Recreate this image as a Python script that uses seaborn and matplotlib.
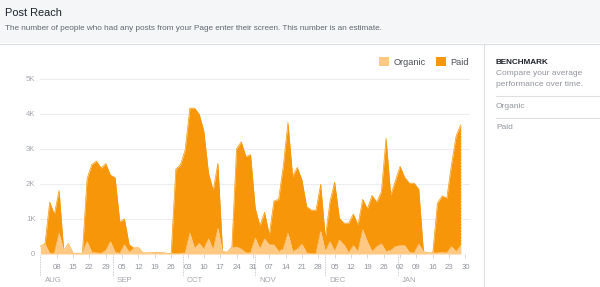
import numpy as np
import pandas as pd
import matplotlib
matplotlib.use("Agg")
import matplotlib.pyplot as plt
import matplotlib.dates as mdates
from matplotlib.patches import Rectangle
import seaborn as sns

# daily reach, one point every 2 days from 1 Aug, values in thousands
start = pd.Timestamp("2018-08-01")
day_offsets = list(range(0, 181, 2))

organic = [0.22, 0.28, 0.02, 0.02, 0.59, 0.10, 0.30, 0.02, 0.02, 0.02,
           0.35, 0.05, 0.03, 0.02, 0.10, 0.35, 0.05, 0.02, 0.26, 0.05,
           0.16, 0.18, 0.03, 0.03, 0.04, 0.05, 0.04, 0.02, 0.01, 0.01,
           0.02, 0.03, 0.59, 0.16, 0.30, 0.14, 0.43, 0.11, 0.73, 0.05,
           0.05, 0.18, 0.20, 0.14, 0.03, 0.03, 0.45, 0.14, 0.43, 0.26,
           0.26, 0.07, 0.14, 0.59, 0.07, 0.14, 0.28, 0.03, 0.01, 0.01,
           0.64, 0.07, 0.35, 0.07, 0.40, 0.26, 0.03, 0.24, 0.07, 0.69,
           0.35, 0.07, 0.21, 0.29, 0.07, 0.11, 0.21, 0.24, 0.24, 0.05,
           0.03, 0.28, 0.07, 0.03, 0.03, 0.03, 0.05, 0.03, 0.21, 0.07,
           0.24]

paid = [0.00, 0.02, 1.46, 1.11, 1.22, 0.00, 0.00, 0.00, 0.00, 0.00,
        1.80, 2.50, 2.62, 2.43, 2.48, 1.90, 2.13, 0.90, 0.74, 0.22,
        0.01, 0.00, 0.00, 0.00, 0.00, 0.00, 0.00, 0.00, 0.01, 2.41,
        2.53, 2.94, 3.57, 4.00, 3.69, 3.36, 1.87, 1.70, 1.86, 0.02,
        0.00, 0.02, 2.80, 3.06, 2.75, 2.80, 0.85, 0.67, 0.76, 0.28,
        1.25, 1.49, 2.36, 3.16, 2.14, 2.33, 1.83, 1.32, 1.24, 1.24,
        1.35, 0.40, 1.15, 1.98, 0.62, 0.62, 0.85, 0.90, 0.76, 0.87,
        0.94, 1.60, 1.27, 1.49, 3.23, 1.57, 1.88, 2.26, 1.94, 1.97,
        1.99, 1.57, 0.00, 0.00, 0.00, 1.42, 1.61, 1.56, 2.33, 3.30,
        3.45]

y_ticks = [0, 1, 2, 3, 4, 5]
y_labels = ["0", "1K", "2K", "3K", "4K", "5K"]
month_starts = ["2018-08-01", "2018-09-01", "2018-10-01", "2018-11-01", "2018-12-01", "2019-01-01"]
month_names = ["AUG", "SEP", "OCT", "NOV", "DEC", "JAN"]

df = pd.DataFrame({
    "date": start + pd.to_timedelta(day_offsets, unit="D"),
    "organic": organic,
    "paid": paid,
})
df["total"] = df["organic"] + df["paid"]

ORANGE = "#f79608"
LIGHT = "#ffc883"
GREY = "#90949c"
LINE = "#dddfe2"

sns.set_theme(style="white")
plt.rcParams["font.family"] = ["Liberation Sans", "DejaVu Sans"]

fig = plt.figure(figsize=(6, 2.87), dpi=100)
fig.patch.set_facecolor("white")

# header band + sidebar divider
fig.patches.append(Rectangle((0, 1 - 43 / 287), 1, 43 / 287, transform=fig.transFigure,
                             facecolor="#f5f6f7", edgecolor="none", zorder=0))
fig.add_artist(plt.Line2D([0, 1], [1 - 43.5 / 287] * 2, color=LINE, lw=0.8))
fig.add_artist(plt.Line2D([483.5 / 600] * 2, [0, 1 - 43.5 / 287], color=LINE, lw=0.8))

fig.text(5 / 600, 1 - 12.5 / 287, "Post Reach", fontsize=7.9, color="#1d2129", va="center")
fig.text(5 / 600, 1 - 28.5 / 287,
         "The number of people who had any posts from your Page enter their screen. This number is an estimate.",
         fontsize=5.9, color="#606770", va="center")

# sidebar
sx = 496 / 600
fig.text(sx, 1 - 62 / 287, "BENCHMARK", fontsize=5.9, fontweight="bold", color="#1d2129", va="center")
fig.text(sx, 1 - 73.5 / 287, "Compare your average", fontsize=6.0, color=GREY, va="center")
fig.text(sx, 1 - 84.5 / 287, "performance over time.", fontsize=6.0, color=GREY, va="center")
fig.add_artist(plt.Line2D([sx, 1], [1 - 96 / 287] * 2, color=LINE, lw=0.8))
fig.text(sx, 1 - 106 / 287, "Organic", fontsize=6.0, color=GREY, va="center")
fig.add_artist(plt.Line2D([sx, 1], [1 - 117.5 / 287] * 2, color=LINE, lw=0.8))
fig.text(sx, 1 - 127.5 / 287, "Paid", fontsize=6.0, color=GREY, va="center")

ax = fig.add_axes([40.35 / 600, 1 - 254 / 287, 429.8 / 600, 175.3 / 287])
ax.set_facecolor("none")

ax.fill_between(df["date"], df["organic"], df["total"], color=ORANGE, lw=0, zorder=2, label="Paid")
ax.fill_between(df["date"], 0, df["organic"], color=LIGHT, lw=0, zorder=3, label="Organic")
sns.lineplot(data=df, x="date", y="total", color=ORANGE, lw=0.5, ax=ax, zorder=2)
sns.lineplot(data=df, x="date", y="organic", color=LIGHT, lw=0.5, ax=ax, zorder=3)

# partial last day edge
last = df.iloc[-1]
ax.plot([last["date"]] * 2, [last["organic"], last["total"]], color="white",
        lw=0.9, ls=(0, (1, 1.6)), zorder=4)

ax.set_xlim(start, start + pd.Timedelta(days=184))
ax.set_ylim(0, 5)
ax.set_yticks(y_ticks)
ax.set_yticklabels(y_labels)
ax.yaxis.grid(True, color="#ebedf0", lw=0.8)
ax.set_axisbelow(True)
for s in ax.spines.values():
    s.set_visible(False)

weeks = pd.date_range("2018-08-08", "2019-01-30", freq="7D")
ax.set_xticks(weeks)
ax.xaxis.set_major_formatter(mdates.DateFormatter("%d"))
ax.tick_params(axis="x", length=3, width=0.6, color="#ccd0d5", pad=4.5, labelsize=5.6, labelcolor=GREY,
               bottom=True)
ax.tick_params(axis="y", length=0, pad=3.5, labelsize=5.6, labelcolor="#a4a8ae")
ax.set_xlabel("")
ax.set_ylabel("")

for m, name in zip(month_starts, month_names):
    md = pd.Timestamp(m)
    ax.plot([md, md], [-0.005, -0.125], transform=ax.get_xaxis_transform(), clip_on=False,
            color="#bcc0c6", lw=0.6, ls=(0, (1, 1)))
    ax.text(md + pd.Timedelta(days=1.8), -0.15, name, transform=ax.get_xaxis_transform(),
            fontsize=5.6, color="#a4a8ae", va="center", ha="left")

handles = [Rectangle((0, 0), 1, 1, facecolor=LIGHT, edgecolor="none"),
           Rectangle((0, 0), 1, 1, facecolor=ORANGE, edgecolor="none")]
ax.legend(handles, ["Organic", "Paid"], ncol=2, loc="center right",
          bbox_to_anchor=(469 / 600, 1 - 62 / 287), bbox_transform=fig.transFigure,
          frameon=False, fontsize=6.6, labelcolor="#4b4f56", handlelength=1.1, handleheight=1.1,
          handletextpad=0.5, columnspacing=1.1, borderpad=0, borderaxespad=0)

fig.savefig("out.png", dpi=100)
